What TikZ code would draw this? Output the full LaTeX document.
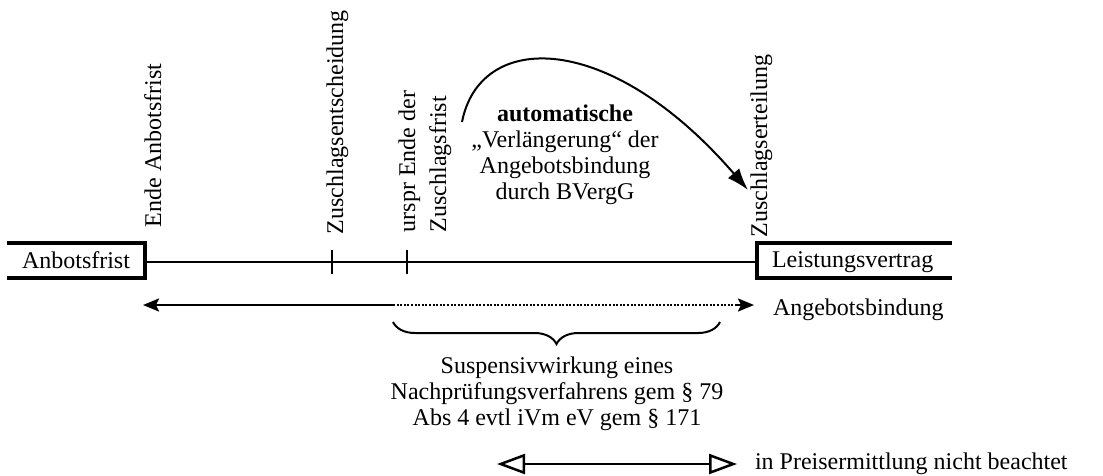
\documentclass[tikz,border=0pt]{standalone}
\usepackage{fontspec}
\setmainfont{Liberation Serif}
\usetikzlibrary{arrows.meta,decorations.pathreplacing}

\begin{document}
\begin{tikzpicture}[x=1pt,y=-1pt,
  font=\fontsize{24}{26}\selectfont,
  lbl/.style={inner sep=0pt, outer sep=0pt},
  vlbl/.style={lbl, rotate=90, anchor=base west},
  timeline/.style={line width=2.5pt},
  frame/.style={line width=4.5pt, line join=miter},
  tick/.style={line width=2pt},
  bind/.style={line width=2.2pt},
  bindtip/.tip={Stealth[length=16pt,width=13pt,inset=3pt]},
  opentip/.tip={Triangle[open,length=28pt,width=20pt,line width=2.5pt]},
]
\useasboundingbox (0,0) rectangle (1103,475);

% phase boxes at both ends of the time line
\node[lbl, anchor=base west] (anb) at (22,268) {Anbotsfrist};
\node[lbl, anchor=base west] (leist) at (772,267) {Leistungsvertrag};
\coordinate (anbR) at (145,262);
\coordinate (leiL) at (757,262);
\draw[frame] (7,243) -| (145,278) -- (7,278);
\draw[frame] (952,243) -| (757,278) -- (952,278);

% time line with its events
\draw[timeline] (anbR) -- (leiL);
\coordinate (tEnt) at (332,262);
\coordinate (tUrs) at (407,262);
\draw[tick] ([yshift=-12pt]tEnt) -- ([yshift=12pt]tEnt);
\draw[tick] ([yshift=-12pt]tUrs) -- ([yshift=12pt]tUrs);

% event labels
\node[vlbl] (endeAnb) at (161,227) {Ende Anbotsfrist};
\node[vlbl] (zEnt) at (343,234) {Zuschlagsentscheidung};
\node[vlbl] (urspr) at (415,232) {urspr Ende der};
\node[vlbl] (zFrist) at (446,232) {Zuschlagsfrist};
\node[vlbl] (zErt) at (767,237) {Zuschlagserteilung};

% automatic extension
\coordinate (extStart) at (462,122);
\coordinate (extEnd) at (748,190);
\draw[line width=2pt, -{Latex[length=22pt,width=15pt]}]
  (extStart) .. controls (480,30) and (610,30) .. (extEnd);
\node[lbl, anchor=north, align=center] (ext) at (565,105)
  {\textbf{automatische}\\„Verlängerung“ der\\Angebotsbindung\\durch BVergG};

% bid binding period
\coordinate (bL) at (143,305);
\coordinate (bM) at (393,305);
\coordinate (bD) at (735,305);
\coordinate (bR) at (754,305);
\draw[bind, bindtip-] (bL) -- (bM);
\draw[line width=1.4pt, dash pattern=on 2pt off 1.6pt] (bM) -- (bD);
\draw[bind, -bindtip] (bD) -- (bR);
\node[lbl, anchor=base west] (bindLbl) at (773,315) {Angebotsbindung};

% suspension brace
\coordinate (brL) at (393,322);
\coordinate (brR) at (720,322);
\draw[line width=2pt, decorate, decoration={brace, mirror, amplitude=22pt}] (brL) -- (brR);
\node[lbl, anchor=north, align=center] (susp) at (557,357)
  {Suspensivwirkung eines\\Nachprüfungsverfahrens gem § 79\\Abs 4 evtl iVm eV gem § 171};

% period not considered in price calculation
\coordinate (pL) at (497,464);
\coordinate (pR) at (737,464);
\draw[line width=2.5pt, opentip-opentip] (pL) -- (pR);
\node[lbl, anchor=base west] (preis) at (755,469) {in Preisermittlung nicht beachtet};
\end{tikzpicture}
\end{document}
